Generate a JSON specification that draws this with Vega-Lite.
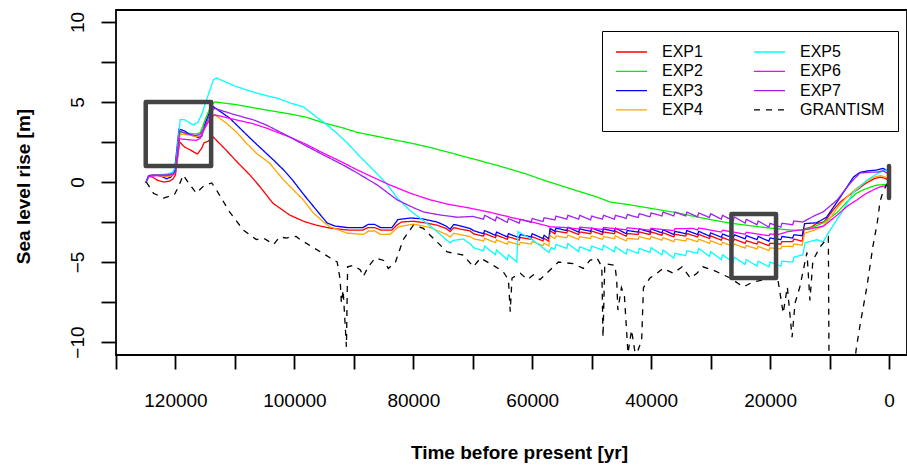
{
"$schema": "https://vega.github.io/schema/vega-lite/v6.json",
"width": 791, "height": 345,
"autosize": {"type": "none"},
"padding": {"left": 116, "top": 10, "right": 0, "bottom": 110},
"background": "white",
"config": {
  "font": "Liberation Sans",
  "view": {"stroke": "black", "strokeWidth": 1.8},
  "axis": {"grid": false, "domain": false, "tickColor": "black", "tickWidth": 1.8, "labelColor": "black", "labelFont": "Liberation Sans", "labelFontSize": 19, "titleFont": "Liberation Sans", "titleFontSize": 19, "titleFontWeight": "bold", "titleColor": "black", "labelOverlap": false, "labelFlush": false, "labelBound": false}
},
"layer": [
{
"data": {"values": [
{"s":"EXP1","t":125000,"v":-0.05},{"s":"EXP1","t":124500,"v":0.35},{"s":"EXP1","t":123800,"v":0.3},{"s":"EXP1","t":123000,"v":0.1},{"s":"EXP1","t":122000,"v":0.0},{"s":"EXP1","t":121000,"v":0.05},{"s":"EXP1","t":120400,"v":0.2},{"s":"EXP1","t":120000,"v":0.45},{"s":"EXP1","t":119300,"v":2.5},{"s":"EXP1","t":118500,"v":2.2},{"s":"EXP1","t":117500,"v":2.0},{"s":"EXP1","t":116300,"v":1.75},{"s":"EXP1","t":115600,"v":2.1},{"s":"EXP1","t":115200,"v":2.45},{"s":"EXP1","t":114500,"v":2.55},{"s":"EXP1","t":113700,"v":2.83},{"s":"EXP1","t":111500,"v":2.0},{"s":"EXP1","t":109500,"v":1.2},{"s":"EXP1","t":107500,"v":0.45},{"s":"EXP1","t":105800,"v":-0.29},{"s":"EXP1","t":103600,"v":-1.33},{"s":"EXP1","t":100800,"v":-2.06},{"s":"EXP1","t":98500,"v":-2.45},{"s":"EXP1","t":96300,"v":-2.7},{"s":"EXP1","t":94000,"v":-2.88},{"s":"EXP1","t":91000,"v":-3.0},{"s":"EXP1","t":88500,"v":-3.0},{"s":"EXP1","t":87600,"v":-2.85},{"s":"EXP1","t":86500,"v":-2.85},{"s":"EXP1","t":85500,"v":-3.0},{"s":"EXP1","t":83600,"v":-3.0},{"s":"EXP1","t":82800,"v":-2.7},{"s":"EXP1","t":82000,"v":-2.5},{"s":"EXP1","t":80000,"v":-2.45},{"s":"EXP1","t":78000,"v":-2.55},{"s":"EXP1","t":76000,"v":-2.7},{"s":"EXP1","t":74500,"v":-2.9},{"s":"EXP1","t":73800,"v":-3.1},{"s":"EXP1","t":73200,"v":-2.85},{"s":"EXP1","t":72000,"v":-2.95},{"s":"EXP1","t":70500,"v":-3.05},{"s":"EXP1","t":69800,"v":-3.25},
{"s":"EXP1","t":68200,"v":-3.38},{"s":"EXP1","t":68000,"v":-3.22},{"s":"EXP1","t":66200,"v":-3.48},{"s":"EXP1","t":66000,"v":-3.32},{"s":"EXP1","t":64200,"v":-3.58},{"s":"EXP1","t":64000,"v":-3.42},{"s":"EXP1","t":62200,"v":-3.63},{"s":"EXP1","t":62000,"v":-3.47},{"s":"EXP1","t":60200,"v":-3.58},{"s":"EXP1","t":60000,"v":-3.42},{"s":"EXP1","t":58200,"v":-3.68},{"s":"EXP1","t":58000,"v":-3.52},{"s":"EXP1","t":57200,"v":-3.7},{"s":"EXP1","t":57000,"v":-3.05},{"s":"EXP1","t":56200,"v":-3.23},{"s":"EXP1","t":56000,"v":-3.07},{"s":"EXP1","t":54200,"v":-3.18},{"s":"EXP1","t":54000,"v":-3.02},{"s":"EXP1","t":52200,"v":-3.28},{"s":"EXP1","t":52000,"v":-3.12},{"s":"EXP1","t":50200,"v":-3.23},{"s":"EXP1","t":50000,"v":-3.07},{"s":"EXP1","t":48200,"v":-3.28},{"s":"EXP1","t":48000,"v":-3.12},{"s":"EXP1","t":46200,"v":-3.23},{"s":"EXP1","t":46000,"v":-3.07},{"s":"EXP1","t":44200,"v":-3.38},{"s":"EXP1","t":44000,"v":-3.22},{"s":"EXP1","t":42200,"v":-3.28},{"s":"EXP1","t":42000,"v":-3.12},{"s":"EXP1","t":40200,"v":-3.28},{"s":"EXP1","t":40000,"v":-3.12},{"s":"EXP1","t":38200,"v":-3.33},{"s":"EXP1","t":38000,"v":-3.17},{"s":"EXP1","t":36200,"v":-3.43},{"s":"EXP1","t":36000,"v":-3.27},{"s":"EXP1","t":34200,"v":-3.38},{"s":"EXP1","t":34000,"v":-3.22},{"s":"EXP1","t":32200,"v":-3.43},{"s":"EXP1","t":32000,"v":-3.27},{"s":"EXP1","t":30200,"v":-3.53},{"s":"EXP1","t":30000,"v":-3.37},{"s":"EXP1","t":28200,"v":-3.63},{"s":"EXP1","t":28000,"v":-3.47},{"s":"EXP1","t":26200,"v":-3.73},{"s":"EXP1","t":26000,"v":-3.57},{"s":"EXP1","t":24200,"v":-3.83},{"s":"EXP1","t":24000,"v":-3.67},{"s":"EXP1","t":22200,"v":-3.88},{"s":"EXP1","t":22000,"v":-3.72},{"s":"EXP1","t":20200,"v":-3.98},{"s":"EXP1","t":20000,"v":-3.82},{"s":"EXP1","t":18200,"v":-3.88},{"s":"EXP1","t":18000,"v":-3.72},{"s":"EXP1","t":16200,"v":-3.73},{"s":"EXP1","t":16000,"v":-3.57},{"s":"EXP1","t":14600,"v":-3.7},{"s":"EXP1","t":14300,"v":-2.95},{"s":"EXP1","t":13000,"v":-2.8},{"s":"EXP1","t":12200,"v":-2.6},{"s":"EXP1","t":11000,"v":-2.5},{"s":"EXP1","t":10400,"v":-2.25},{"s":"EXP1","t":9500,"v":-1.8},{"s":"EXP1","t":8200,"v":-1.25},{"s":"EXP1","t":7000,"v":-0.9},{"s":"EXP1","t":5400,"v":-0.5},{"s":"EXP1","t":4000,"v":-0.1},{"s":"EXP1","t":2500,"v":0.2},{"s":"EXP1","t":1500,"v":0.3},{"s":"EXP1","t":800,"v":0.25},{"s":"EXP1","t":0,"v":0.1},

{"s":"EXP2","t":125000,"v":-0.05},{"s":"EXP2","t":124500,"v":0.35},{"s":"EXP2","t":123500,"v":0.45},{"s":"EXP2","t":122000,"v":0.45},{"s":"EXP2","t":121000,"v":0.5},{"s":"EXP2","t":120300,"v":0.6},{"s":"EXP2","t":119900,"v":0.9},{"s":"EXP2","t":119200,"v":3.1},{"s":"EXP2","t":118000,"v":3.05},{"s":"EXP2","t":116500,"v":3.0},{"s":"EXP2","t":115800,"v":3.1},{"s":"EXP2","t":115000,"v":3.9},{"s":"EXP2","t":114000,"v":4.8},{"s":"EXP2","t":113400,"v":5.0},{"s":"EXP2","t":110000,"v":4.85},{"s":"EXP2","t":107000,"v":4.65},{"s":"EXP2","t":104700,"v":4.5},{"s":"EXP2","t":100700,"v":4.25},{"s":"EXP2","t":98000,"v":4.05},{"s":"EXP2","t":95100,"v":3.7},{"s":"EXP2","t":92000,"v":3.4},{"s":"EXP2","t":89400,"v":3.1},{"s":"EXP2","t":86000,"v":2.85},{"s":"EXP2","t":82700,"v":2.6},{"s":"EXP2","t":80000,"v":2.4},{"s":"EXP2","t":77000,"v":2.15},{"s":"EXP2","t":75500,"v":2.0},{"s":"EXP2","t":72000,"v":1.65},{"s":"EXP2","t":69200,"v":1.37},{"s":"EXP2","t":66000,"v":1.05},{"s":"EXP2","t":63700,"v":0.8},{"s":"EXP2","t":61000,"v":0.5},{"s":"EXP2","t":58100,"v":0.12},{"s":"EXP2","t":55000,"v":-0.25},{"s":"EXP2","t":52000,"v":-0.6},{"s":"EXP2","t":49000,"v":-0.95},{"s":"EXP2","t":46900,"v":-1.25},{"s":"EXP2","t":44000,"v":-1.4},{"s":"EXP2","t":40000,"v":-1.65},{"s":"EXP2","t":36000,"v":-1.9},{"s":"EXP2","t":33400,"v":-2.1},{"s":"EXP2","t":30000,"v":-2.35},{"s":"EXP2","t":27000,"v":-2.55},{"s":"EXP2","t":24000,"v":-2.7},{"s":"EXP2","t":19500,"v":-2.9},{"s":"EXP2","t":16600,"v":-3.0},{"s":"EXP2","t":14500,"v":-3.0},{"s":"EXP2","t":13000,"v":-2.85},{"s":"EXP2","t":11100,"v":-2.56},{"s":"EXP2","t":8700,"v":-1.9},{"s":"EXP2","t":7100,"v":-1.25},{"s":"EXP2","t":5500,"v":-0.7},{"s":"EXP2","t":4400,"v":-0.5},{"s":"EXP2","t":3000,"v":-0.3},{"s":"EXP2","t":2000,"v":-0.19},{"s":"EXP2","t":0,"v":-0.15},

{"s":"EXP3","t":125000,"v":-0.05},{"s":"EXP3","t":124500,"v":0.4},{"s":"EXP3","t":123500,"v":0.45},{"s":"EXP3","t":122300,"v":0.35},{"s":"EXP3","t":121500,"v":0.2},{"s":"EXP3","t":120800,"v":0.3},{"s":"EXP3","t":120200,"v":0.55},{"s":"EXP3","t":119400,"v":3.3},{"s":"EXP3","t":118500,"v":3.2},{"s":"EXP3","t":117500,"v":2.95},{"s":"EXP3","t":116200,"v":2.8},{"s":"EXP3","t":115600,"v":2.85},{"s":"EXP3","t":115100,"v":3.56},{"s":"EXP3","t":114000,"v":4.6},{"s":"EXP3","t":113600,"v":4.7},{"s":"EXP3","t":110900,"v":4.0},{"s":"EXP3","t":107600,"v":2.8},{"s":"EXP3","t":105900,"v":2.2},{"s":"EXP3","t":103500,"v":1.37},{"s":"EXP3","t":101800,"v":0.75},{"s":"EXP3","t":100300,"v":0.12},{"s":"EXP3","t":98500,"v":-0.75},{"s":"EXP3","t":96300,"v":-1.75},{"s":"EXP3","t":94500,"v":-2.56},{"s":"EXP3","t":93200,"v":-2.75},{"s":"EXP3","t":91000,"v":-2.85},{"s":"EXP3","t":88500,"v":-2.85},{"s":"EXP3","t":87600,"v":-2.65},{"s":"EXP3","t":86500,"v":-2.65},{"s":"EXP3","t":85500,"v":-2.85},{"s":"EXP3","t":83600,"v":-2.85},{"s":"EXP3","t":82600,"v":-2.35},{"s":"EXP3","t":80500,"v":-2.25},{"s":"EXP3","t":78500,"v":-2.3},{"s":"EXP3","t":76000,"v":-2.5},{"s":"EXP3","t":74500,"v":-2.75},{"s":"EXP3","t":73800,"v":-2.95},{"s":"EXP3","t":73200,"v":-2.65},{"s":"EXP3","t":72000,"v":-2.75},{"s":"EXP3","t":70500,"v":-2.9},{"s":"EXP3","t":69800,"v":-3.05},
{"s":"EXP3","t":68200,"v":-3.23},{"s":"EXP3","t":68000,"v":-3.03},{"s":"EXP3","t":66200,"v":-3.33},{"s":"EXP3","t":66000,"v":-3.13},{"s":"EXP3","t":64200,"v":-3.43},{"s":"EXP3","t":64000,"v":-3.23},{"s":"EXP3","t":62200,"v":-3.48},{"s":"EXP3","t":62000,"v":-3.28},{"s":"EXP3","t":60200,"v":-3.43},{"s":"EXP3","t":60000,"v":-3.23},{"s":"EXP3","t":58200,"v":-3.53},{"s":"EXP3","t":58000,"v":-3.33},{"s":"EXP3","t":57200,"v":-3.55},{"s":"EXP3","t":57000,"v":-2.9},{"s":"EXP3","t":56200,"v":-3.08},{"s":"EXP3","t":56000,"v":-2.88},{"s":"EXP3","t":54200,"v":-3.03},{"s":"EXP3","t":54000,"v":-2.83},{"s":"EXP3","t":52200,"v":-3.13},{"s":"EXP3","t":52000,"v":-2.93},{"s":"EXP3","t":50200,"v":-3.08},{"s":"EXP3","t":50000,"v":-2.88},{"s":"EXP3","t":48200,"v":-3.13},{"s":"EXP3","t":48000,"v":-2.93},{"s":"EXP3","t":46200,"v":-3.08},{"s":"EXP3","t":46000,"v":-2.88},{"s":"EXP3","t":44200,"v":-3.23},{"s":"EXP3","t":44000,"v":-3.03},{"s":"EXP3","t":42200,"v":-3.13},{"s":"EXP3","t":42000,"v":-2.93},{"s":"EXP3","t":40200,"v":-3.13},{"s":"EXP3","t":40000,"v":-2.93},{"s":"EXP3","t":38200,"v":-3.18},{"s":"EXP3","t":38000,"v":-2.98},{"s":"EXP3","t":36200,"v":-3.28},{"s":"EXP3","t":36000,"v":-3.08},{"s":"EXP3","t":34200,"v":-3.23},{"s":"EXP3","t":34000,"v":-3.03},{"s":"EXP3","t":32200,"v":-3.28},{"s":"EXP3","t":32000,"v":-3.08},{"s":"EXP3","t":30200,"v":-3.38},{"s":"EXP3","t":30000,"v":-3.18},{"s":"EXP3","t":28200,"v":-3.45},{"s":"EXP3","t":28000,"v":-3.25},{"s":"EXP3","t":26200,"v":-3.5},{"s":"EXP3","t":26000,"v":-3.3},{"s":"EXP3","t":24200,"v":-3.55},{"s":"EXP3","t":24000,"v":-3.35},{"s":"EXP3","t":22200,"v":-3.6},{"s":"EXP3","t":22000,"v":-3.4},{"s":"EXP3","t":20200,"v":-3.7},{"s":"EXP3","t":20000,"v":-3.5},{"s":"EXP3","t":18200,"v":-3.6},{"s":"EXP3","t":18000,"v":-3.4},{"s":"EXP3","t":16200,"v":-3.5},{"s":"EXP3","t":16000,"v":-3.3},{"s":"EXP3","t":14600,"v":-3.35},{"s":"EXP3","t":14200,"v":-2.6},{"s":"EXP3","t":12200,"v":-2.55},{"s":"EXP3","t":10500,"v":-2.2},{"s":"EXP3","t":8200,"v":-0.95},{"s":"EXP3","t":6000,"v":0.3},{"s":"EXP3","t":4900,"v":0.6},{"s":"EXP3","t":3500,"v":0.7},{"s":"EXP3","t":2000,"v":0.75},{"s":"EXP3","t":1000,"v":0.85},{"s":"EXP3","t":0,"v":0.65},

{"s":"EXP4","t":125000,"v":-0.05},{"s":"EXP4","t":124500,"v":0.4},{"s":"EXP4","t":123500,"v":0.45},{"s":"EXP4","t":122000,"v":0.35},{"s":"EXP4","t":121000,"v":0.35},{"s":"EXP4","t":120300,"v":0.45},{"s":"EXP4","t":119900,"v":0.7},{"s":"EXP4","t":119300,"v":3.0},{"s":"EXP4","t":118000,"v":2.95},{"s":"EXP4","t":116500,"v":2.85},{"s":"EXP4","t":115800,"v":2.9},{"s":"EXP4","t":115000,"v":3.5},{"s":"EXP4","t":114000,"v":4.1},{"s":"EXP4","t":113400,"v":4.2},{"s":"EXP4","t":111500,"v":3.7},{"s":"EXP4","t":109700,"v":3.1},{"s":"EXP4","t":108000,"v":2.4},{"s":"EXP4","t":106400,"v":1.8},{"s":"EXP4","t":104200,"v":1.19},{"s":"EXP4","t":101800,"v":0.12},{"s":"EXP4","t":98500,"v":-1.12},{"s":"EXP4","t":96800,"v":-1.94},{"s":"EXP4","t":95100,"v":-2.5},{"s":"EXP4","t":94000,"v":-2.8},{"s":"EXP4","t":91100,"v":-3.2},{"s":"EXP4","t":88400,"v":-3.27},{"s":"EXP4","t":87500,"v":-3.06},{"s":"EXP4","t":86500,"v":-3.06},{"s":"EXP4","t":85500,"v":-3.27},{"s":"EXP4","t":83900,"v":-3.27},{"s":"EXP4","t":82500,"v":-2.8},{"s":"EXP4","t":80000,"v":-2.63},{"s":"EXP4","t":77100,"v":-2.85},{"s":"EXP4","t":74300,"v":-3.3},{"s":"EXP4","t":73800,"v":-3.44},{"s":"EXP4","t":73200,"v":-3.2},{"s":"EXP4","t":72000,"v":-3.3},{"s":"EXP4","t":70500,"v":-3.4},{"s":"EXP4","t":69800,"v":-3.55},
{"s":"EXP4","t":68200,"v":-3.68},{"s":"EXP4","t":68000,"v":-3.52},{"s":"EXP4","t":66200,"v":-3.78},{"s":"EXP4","t":66000,"v":-3.62},{"s":"EXP4","t":64200,"v":-3.88},{"s":"EXP4","t":64000,"v":-3.72},{"s":"EXP4","t":62200,"v":-3.93},{"s":"EXP4","t":62000,"v":-3.77},{"s":"EXP4","t":60200,"v":-3.88},{"s":"EXP4","t":60000,"v":-3.72},{"s":"EXP4","t":58200,"v":-3.98},{"s":"EXP4","t":58000,"v":-3.82},{"s":"EXP4","t":57200,"v":-4.0},{"s":"EXP4","t":57000,"v":-3.35},{"s":"EXP4","t":56200,"v":-3.53},{"s":"EXP4","t":56000,"v":-3.37},{"s":"EXP4","t":54200,"v":-3.48},{"s":"EXP4","t":54000,"v":-3.32},{"s":"EXP4","t":52200,"v":-3.58},{"s":"EXP4","t":52000,"v":-3.42},{"s":"EXP4","t":50200,"v":-3.53},{"s":"EXP4","t":50000,"v":-3.37},{"s":"EXP4","t":48200,"v":-3.58},{"s":"EXP4","t":48000,"v":-3.42},{"s":"EXP4","t":46200,"v":-3.53},{"s":"EXP4","t":46000,"v":-3.37},{"s":"EXP4","t":44200,"v":-3.68},{"s":"EXP4","t":44000,"v":-3.52},{"s":"EXP4","t":42200,"v":-3.58},{"s":"EXP4","t":42000,"v":-3.42},{"s":"EXP4","t":40200,"v":-3.58},{"s":"EXP4","t":40000,"v":-3.42},{"s":"EXP4","t":38200,"v":-3.63},{"s":"EXP4","t":38000,"v":-3.47},{"s":"EXP4","t":36200,"v":-3.73},{"s":"EXP4","t":36000,"v":-3.57},{"s":"EXP4","t":34200,"v":-3.68},{"s":"EXP4","t":34000,"v":-3.52},{"s":"EXP4","t":32200,"v":-3.73},{"s":"EXP4","t":32000,"v":-3.57},{"s":"EXP4","t":30200,"v":-3.83},{"s":"EXP4","t":30000,"v":-3.67},{"s":"EXP4","t":28200,"v":-3.93},{"s":"EXP4","t":28000,"v":-3.77},{"s":"EXP4","t":26200,"v":-4.03},{"s":"EXP4","t":26000,"v":-3.87},{"s":"EXP4","t":24200,"v":-4.13},{"s":"EXP4","t":24000,"v":-3.97},{"s":"EXP4","t":22200,"v":-4.18},{"s":"EXP4","t":22000,"v":-4.02},{"s":"EXP4","t":20200,"v":-4.28},{"s":"EXP4","t":20000,"v":-4.12},{"s":"EXP4","t":18200,"v":-4.18},{"s":"EXP4","t":18000,"v":-4.02},{"s":"EXP4","t":16200,"v":-4.03},{"s":"EXP4","t":16000,"v":-3.87},{"s":"EXP4","t":14600,"v":-3.95},{"s":"EXP4","t":14200,"v":-3.2},{"s":"EXP4","t":12500,"v":-3.0},{"s":"EXP4","t":11100,"v":-2.75},{"s":"EXP4","t":10000,"v":-2.3},{"s":"EXP4","t":8500,"v":-1.5},{"s":"EXP4","t":7000,"v":-0.9},{"s":"EXP4","t":5500,"v":-0.4},{"s":"EXP4","t":4000,"v":0.0},{"s":"EXP4","t":2500,"v":0.3},{"s":"EXP4","t":1500,"v":0.4},{"s":"EXP4","t":0,"v":0.25},

{"s":"EXP5","t":125000,"v":-0.05},{"s":"EXP5","t":124500,"v":0.35},{"s":"EXP5","t":123000,"v":0.45},{"s":"EXP5","t":121500,"v":0.5},{"s":"EXP5","t":120500,"v":0.6},{"s":"EXP5","t":120000,"v":0.9},{"s":"EXP5","t":119200,"v":3.9},{"s":"EXP5","t":118500,"v":3.9},{"s":"EXP5","t":117000,"v":3.56},{"s":"EXP5","t":116200,"v":3.75},{"s":"EXP5","t":115500,"v":4.3},{"s":"EXP5","t":115000,"v":4.9},{"s":"EXP5","t":113600,"v":6.4},{"s":"EXP5","t":113100,"v":6.5},{"s":"EXP5","t":110000,"v":6.0},{"s":"EXP5","t":108000,"v":5.75},{"s":"EXP5","t":106400,"v":5.56},{"s":"EXP5","t":105200,"v":5.44},{"s":"EXP5","t":103000,"v":5.25},{"s":"EXP5","t":101800,"v":5.1},{"s":"EXP5","t":100700,"v":4.94},{"s":"EXP5","t":98500,"v":4.7},{"s":"EXP5","t":96300,"v":4.06},{"s":"EXP5","t":95100,"v":3.75},{"s":"EXP5","t":93000,"v":3.1},{"s":"EXP5","t":91100,"v":2.44},{"s":"EXP5","t":89000,"v":1.6},{"s":"EXP5","t":86700,"v":0.75},{"s":"EXP5","t":84500,"v":-0.1},{"s":"EXP5","t":82700,"v":-1.0},{"s":"EXP5","t":80500,"v":-1.8},{"s":"EXP5","t":78000,"v":-2.5},{"s":"EXP5","t":76000,"v":-3.1},{"s":"EXP5","t":74500,"v":-3.6},{"s":"EXP5","t":73800,"v":-3.8},{"s":"EXP5","t":73300,"v":-3.65},{"s":"EXP5","t":71600,"v":-3.56},{"s":"EXP5","t":70300,"v":-3.9},{"s":"EXP5","t":69900,"v":-4.1},
{"s":"EXP5","t":68200,"v":-4.3},{"s":"EXP5","t":68000,"v":-4.0},{"s":"EXP5","t":66200,"v":-4.55},{"s":"EXP5","t":66000,"v":-4.25},{"s":"EXP5","t":64200,"v":-4.85},{"s":"EXP5","t":64000,"v":-4.55},{"s":"EXP5","t":62600,"v":-5.0},{"s":"EXP5","t":62400,"v":-3.1},{"s":"EXP5","t":60000,"v":-3.6},{"s":"EXP5","t":57200,"v":-4.4},{"s":"EXP5","t":56800,"v":-4.1},{"s":"EXP5","t":56200,"v":-4.2},{"s":"EXP5","t":56000,"v":-3.9},{"s":"EXP5","t":54200,"v":-4.15},{"s":"EXP5","t":54000,"v":-3.85},{"s":"EXP5","t":52200,"v":-4.35},{"s":"EXP5","t":52000,"v":-4.05},{"s":"EXP5","t":50200,"v":-4.3},{"s":"EXP5","t":50000,"v":-4.0},{"s":"EXP5","t":48200,"v":-4.25},{"s":"EXP5","t":48000,"v":-3.95},{"s":"EXP5","t":46200,"v":-4.35},{"s":"EXP5","t":46000,"v":-4.05},{"s":"EXP5","t":44200,"v":-4.5},{"s":"EXP5","t":44000,"v":-4.2},{"s":"EXP5","t":42200,"v":-4.45},{"s":"EXP5","t":42000,"v":-4.15},{"s":"EXP5","t":40200,"v":-4.4},{"s":"EXP5","t":40000,"v":-4.1},{"s":"EXP5","t":38200,"v":-4.55},{"s":"EXP5","t":38000,"v":-4.25},{"s":"EXP5","t":36200,"v":-4.75},{"s":"EXP5","t":36000,"v":-4.45},{"s":"EXP5","t":34200,"v":-4.6},{"s":"EXP5","t":34000,"v":-4.3},{"s":"EXP5","t":32200,"v":-4.45},{"s":"EXP5","t":32000,"v":-4.15},{"s":"EXP5","t":30200,"v":-4.65},{"s":"EXP5","t":30000,"v":-4.35},{"s":"EXP5","t":28200,"v":-4.85},{"s":"EXP5","t":28000,"v":-4.55},{"s":"EXP5","t":26200,"v":-5.0},{"s":"EXP5","t":26000,"v":-4.7},{"s":"EXP5","t":24200,"v":-5.15},{"s":"EXP5","t":24000,"v":-4.85},{"s":"EXP5","t":22200,"v":-5.25},{"s":"EXP5","t":22000,"v":-4.95},{"s":"EXP5","t":20200,"v":-5.3},{"s":"EXP5","t":20000,"v":-5.0},{"s":"EXP5","t":18200,"v":-5.25},{"s":"EXP5","t":18000,"v":-4.95},{"s":"EXP5","t":16200,"v":-5.0},{"s":"EXP5","t":16000,"v":-4.7},{"s":"EXP5","t":14500,"v":-4.56},{"s":"EXP5","t":14100,"v":-3.8},{"s":"EXP5","t":12100,"v":-3.6},{"s":"EXP5","t":11100,"v":-3.75},{"s":"EXP5","t":9900,"v":-3.0},{"s":"EXP5","t":7700,"v":-1.75},{"s":"EXP5","t":6100,"v":-0.7},{"s":"EXP5","t":3700,"v":0.12},{"s":"EXP5","t":1500,"v":0.62},{"s":"EXP5","t":500,"v":0.75},{"s":"EXP5","t":0,"v":0.7},

{"s":"EXP6","t":125000,"v":-0.05},{"s":"EXP6","t":124500,"v":0.35},{"s":"EXP6","t":123000,"v":0.4},{"s":"EXP6","t":121500,"v":0.4},{"s":"EXP6","t":120500,"v":0.45},{"s":"EXP6","t":120000,"v":0.6},{"s":"EXP6","t":119300,"v":2.7},{"s":"EXP6","t":118000,"v":2.65},{"s":"EXP6","t":116500,"v":2.6},{"s":"EXP6","t":115800,"v":2.75},{"s":"EXP6","t":115000,"v":3.4},{"s":"EXP6","t":114000,"v":4.05},{"s":"EXP6","t":113400,"v":4.2},{"s":"EXP6","t":110000,"v":3.9},{"s":"EXP6","t":107000,"v":3.65},{"s":"EXP6","t":104700,"v":3.37},{"s":"EXP6","t":100700,"v":2.8},{"s":"EXP6","t":98000,"v":2.35},{"s":"EXP6","t":95100,"v":1.8},{"s":"EXP6","t":92000,"v":1.25},{"s":"EXP6","t":89400,"v":0.75},{"s":"EXP6","t":86500,"v":0.25},{"s":"EXP6","t":83900,"v":-0.19},{"s":"EXP6","t":80500,"v":-0.7},{"s":"EXP6","t":77100,"v":-1.12},{"s":"EXP6","t":74000,"v":-1.4},{"s":"EXP6","t":70900,"v":-1.6},{"s":"EXP6","t":67000,"v":-1.9},{"s":"EXP6","t":63700,"v":-2.2},{"s":"EXP6","t":60000,"v":-2.5},{"s":"EXP6","t":57000,"v":-2.8},{"s":"EXP6","t":54000,"v":-2.85},{"s":"EXP6","t":52200,"v":-2.94},{"s":"EXP6","t":52000,"v":-2.82},{"s":"EXP6","t":48200,"v":-2.96},{"s":"EXP6","t":48000,"v":-2.84},{"s":"EXP6","t":44200,"v":-2.98},{"s":"EXP6","t":44000,"v":-2.86},{"s":"EXP6","t":40200,"v":-3.01},{"s":"EXP6","t":40000,"v":-2.89},{"s":"EXP6","t":36200,"v":-3.04},{"s":"EXP6","t":36000,"v":-2.92},{"s":"EXP6","t":33000,"v":-2.9},{"s":"EXP6","t":32200,"v":-2.99},{"s":"EXP6","t":32000,"v":-2.87},{"s":"EXP6","t":28200,"v":-3.13},{"s":"EXP6","t":28000,"v":-3.01},{"s":"EXP6","t":24200,"v":-3.26},{"s":"EXP6","t":24000,"v":-3.14},{"s":"EXP6","t":20200,"v":-3.36},{"s":"EXP6","t":20000,"v":-3.24},{"s":"EXP6","t":18800,"v":-3.3},{"s":"EXP6","t":17000,"v":-3.1},{"s":"EXP6","t":15000,"v":-3.0},{"s":"EXP6","t":13500,"v":-2.95},{"s":"EXP6","t":11000,"v":-2.75},{"s":"EXP6","t":8700,"v":-2.06},{"s":"EXP6","t":7000,"v":-1.5},{"s":"EXP6","t":5400,"v":-1.12},{"s":"EXP6","t":4000,"v":-0.75},{"s":"EXP6","t":2700,"v":-0.5},{"s":"EXP6","t":1500,"v":-0.3},{"s":"EXP6","t":0,"v":-0.2},

{"s":"EXP7","t":125000,"v":-0.05},{"s":"EXP7","t":124500,"v":0.4},{"s":"EXP7","t":123000,"v":0.45},{"s":"EXP7","t":121500,"v":0.45},{"s":"EXP7","t":120500,"v":0.5},{"s":"EXP7","t":120000,"v":0.65},{"s":"EXP7","t":119300,"v":3.2},{"s":"EXP7","t":118000,"v":3.0},{"s":"EXP7","t":116500,"v":2.9},{"s":"EXP7","t":115800,"v":3.0},{"s":"EXP7","t":115000,"v":3.5},{"s":"EXP7","t":114000,"v":4.45},{"s":"EXP7","t":113400,"v":4.6},{"s":"EXP7","t":110000,"v":4.2},{"s":"EXP7","t":107000,"v":3.9},{"s":"EXP7","t":104700,"v":3.56},{"s":"EXP7","t":100700,"v":2.8},{"s":"EXP7","t":98000,"v":2.25},{"s":"EXP7","t":95100,"v":1.69},{"s":"EXP7","t":92000,"v":1.1},{"s":"EXP7","t":89400,"v":0.56},{"s":"EXP7","t":86000,"v":-0.2},{"s":"EXP7","t":82700,"v":-1.12},{"s":"EXP7","t":80000,"v":-1.6},{"s":"EXP7","t":78300,"v":-1.87},{"s":"EXP7","t":75500,"v":-2.06},{"s":"EXP7","t":72600,"v":-2.2},{"s":"EXP7","t":70000,"v":-2.15},
{"s":"EXP7","t":68200,"v":-2.32},{"s":"EXP7","t":68000,"v":-2.08},{"s":"EXP7","t":66200,"v":-2.42},{"s":"EXP7","t":66000,"v":-2.18},{"s":"EXP7","t":64200,"v":-2.52},{"s":"EXP7","t":64000,"v":-2.28},{"s":"EXP7","t":62200,"v":-2.57},{"s":"EXP7","t":62000,"v":-2.33},{"s":"EXP7","t":60200,"v":-2.52},{"s":"EXP7","t":60000,"v":-2.28},{"s":"EXP7","t":58200,"v":-2.47},{"s":"EXP7","t":58000,"v":-2.23},{"s":"EXP7","t":56200,"v":-2.37},{"s":"EXP7","t":56000,"v":-2.13},{"s":"EXP7","t":54200,"v":-2.32},{"s":"EXP7","t":54000,"v":-2.08},{"s":"EXP7","t":52200,"v":-2.32},{"s":"EXP7","t":52000,"v":-2.08},{"s":"EXP7","t":50200,"v":-2.37},{"s":"EXP7","t":50000,"v":-2.13},{"s":"EXP7","t":48200,"v":-2.32},{"s":"EXP7","t":48000,"v":-2.08},{"s":"EXP7","t":46200,"v":-2.32},{"s":"EXP7","t":46000,"v":-2.08},{"s":"EXP7","t":44200,"v":-2.27},{"s":"EXP7","t":44000,"v":-2.03},{"s":"EXP7","t":42200,"v":-2.22},{"s":"EXP7","t":42000,"v":-1.98},{"s":"EXP7","t":40200,"v":-2.17},{"s":"EXP7","t":40000,"v":-1.93},{"s":"EXP7","t":38200,"v":-2.12},{"s":"EXP7","t":38000,"v":-1.88},{"s":"EXP7","t":36200,"v":-2.12},{"s":"EXP7","t":36000,"v":-1.88},{"s":"EXP7","t":34200,"v":-2.12},{"s":"EXP7","t":34000,"v":-1.88},{"s":"EXP7","t":32200,"v":-2.17},{"s":"EXP7","t":32000,"v":-1.93},{"s":"EXP7","t":30200,"v":-2.22},{"s":"EXP7","t":30000,"v":-1.98},{"s":"EXP7","t":28200,"v":-2.32},{"s":"EXP7","t":28000,"v":-2.08},{"s":"EXP7","t":26200,"v":-2.42},{"s":"EXP7","t":26000,"v":-2.18},{"s":"EXP7","t":24200,"v":-2.57},{"s":"EXP7","t":24000,"v":-2.33},{"s":"EXP7","t":22200,"v":-2.67},{"s":"EXP7","t":22000,"v":-2.43},{"s":"EXP7","t":20200,"v":-2.82},{"s":"EXP7","t":20000,"v":-2.58},{"s":"EXP7","t":18200,"v":-2.82},{"s":"EXP7","t":18000,"v":-2.58},{"s":"EXP7","t":16200,"v":-2.67},{"s":"EXP7","t":16000,"v":-2.43},{"s":"EXP7","t":14500,"v":-2.5},{"s":"EXP7","t":12500,"v":-2.1},{"s":"EXP7","t":11100,"v":-1.87},{"s":"EXP7","t":8700,"v":-1.12},{"s":"EXP7","t":6500,"v":-0.06},{"s":"EXP7","t":4900,"v":0.56},{"s":"EXP7","t":3000,"v":0.62},{"s":"EXP7","t":2000,"v":0.62},{"s":"EXP7","t":1000,"v":0.7},{"s":"EXP7","t":0,"v":0.5},

{"s":"GRANTISM","t":124900,"v":0.0},{"s":"GRANTISM","t":123700,"v":-0.7},{"s":"GRANTISM","t":122000,"v":-1.0},{"s":"GRANTISM","t":120200,"v":-0.8},{"s":"GRANTISM","t":119500,"v":-0.3},{"s":"GRANTISM","t":118700,"v":0.44},{"s":"GRANTISM","t":117800,"v":-0.06},{"s":"GRANTISM","t":116500,"v":-0.7},{"s":"GRANTISM","t":115100,"v":-0.19},{"s":"GRANTISM","t":113900,"v":-0.06},{"s":"GRANTISM","t":113100,"v":-0.5},{"s":"GRANTISM","t":110900,"v":-1.87},{"s":"GRANTISM","t":108600,"v":-3.0},{"s":"GRANTISM","t":106400,"v":-3.6},{"s":"GRANTISM","t":105200,"v":-3.5},{"s":"GRANTISM","t":103500,"v":-3.9},{"s":"GRANTISM","t":102500,"v":-3.44},{"s":"GRANTISM","t":101300,"v":-3.5},{"s":"GRANTISM","t":100700,"v":-3.44},{"s":"GRANTISM","t":99700,"v":-3.4},{"s":"GRANTISM","t":99000,"v":-3.6},{"s":"GRANTISM","t":95600,"v":-4.37},{"s":"GRANTISM","t":92800,"v":-5.0},{"s":"GRANTISM","t":92300,"v":-6.1},{"s":"GRANTISM","t":92100,"v":-7.56},{"s":"GRANTISM","t":91800,"v":-6.75},{"s":"GRANTISM","t":91250,"v":-10.3},{"s":"GRANTISM","t":91050,"v":-5.3},{"s":"GRANTISM","t":90100,"v":-5.2},{"s":"GRANTISM","t":88900,"v":-5.5},{"s":"GRANTISM","t":88400,"v":-5.9},{"s":"GRANTISM","t":87600,"v":-5.3},{"s":"GRANTISM","t":86400,"v":-4.75},{"s":"GRANTISM","t":85000,"v":-4.9},{"s":"GRANTISM","t":84200,"v":-5.4},{"s":"GRANTISM","t":83000,"v":-5.0},{"s":"GRANTISM","t":81700,"v":-3.6},{"s":"GRANTISM","t":80000,"v":-2.7},{"s":"GRANTISM","t":78300,"v":-2.9},{"s":"GRANTISM","t":76000,"v":-3.75},{"s":"GRANTISM","t":74300,"v":-4.37},{"s":"GRANTISM","t":71600,"v":-4.56},{"s":"GRANTISM","t":69900,"v":-5.3},{"s":"GRANTISM","t":68700,"v":-4.75},{"s":"GRANTISM","t":66600,"v":-5.2},{"s":"GRANTISM","t":64900,"v":-5.6},{"s":"GRANTISM","t":64000,"v":-6.1},{"s":"GRANTISM","t":63700,"v":-8.1},{"s":"GRANTISM","t":63400,"v":-6.0},{"s":"GRANTISM","t":62000,"v":-5.7},{"s":"GRANTISM","t":60800,"v":-6.1},{"s":"GRANTISM","t":59800,"v":-5.8},{"s":"GRANTISM","t":58700,"v":-6.1},{"s":"GRANTISM","t":57000,"v":-5.5},{"s":"GRANTISM","t":55600,"v":-5.0},{"s":"GRANTISM","t":53100,"v":-5.1},{"s":"GRANTISM","t":51400,"v":-5.4},{"s":"GRANTISM","t":50300,"v":-4.9},{"s":"GRANTISM","t":49100,"v":-4.75},{"s":"GRANTISM","t":48300,"v":-5.3},{"s":"GRANTISM","t":48100,"v":-9.7},{"s":"GRANTISM","t":47800,"v":-5.1},{"s":"GRANTISM","t":46100,"v":-5.2},{"s":"GRANTISM","t":45800,"v":-6.1},{"s":"GRANTISM","t":45600,"v":-8.0},{"s":"GRANTISM","t":45000,"v":-6.6},{"s":"GRANTISM","t":44500,"v":-7.1},{"s":"GRANTISM","t":43900,"v":-10.7},{"s":"GRANTISM","t":43300,"v":-9.25},{"s":"GRANTISM","t":42700,"v":-10.7},{"s":"GRANTISM","t":42200,"v":-10.5},{"s":"GRANTISM","t":41600,"v":-9.9},{"s":"GRANTISM","t":41300,"v":-6.6},{"s":"GRANTISM","t":40200,"v":-6.0},{"s":"GRANTISM","t":39000,"v":-5.7},{"s":"GRANTISM","t":38000,"v":-5.4},{"s":"GRANTISM","t":36300,"v":-5.7},{"s":"GRANTISM","t":34800,"v":-5.3},{"s":"GRANTISM","t":33400,"v":-6.0},{"s":"GRANTISM","t":32300,"v":-5.7},{"s":"GRANTISM","t":31300,"v":-5.3},{"s":"GRANTISM","t":29600,"v":-5.5},{"s":"GRANTISM","t":26700,"v":-6.0},{"s":"GRANTISM","t":24500,"v":-6.56},{"s":"GRANTISM","t":22900,"v":-6.25},{"s":"GRANTISM","t":20500,"v":-6.06},{"s":"GRANTISM","t":18700,"v":-6.06},{"s":"GRANTISM","t":17800,"v":-8.2},{"s":"GRANTISM","t":17100,"v":-6.56},{"s":"GRANTISM","t":16300,"v":-9.7},{"s":"GRANTISM","t":15800,"v":-7.56},{"s":"GRANTISM","t":15000,"v":-6.56},{"s":"GRANTISM","t":13800,"v":-4.4},{"s":"GRANTISM","t":13300,"v":-7.4},{"s":"GRANTISM","t":12800,"v":-4.9},{"s":"GRANTISM","t":11600,"v":-4.06},{"s":"GRANTISM","t":10200,"v":-3.44},{"s":"GRANTISM","t":10100,"v":-10.6},{"s":"GRANTISM","t":9900,"v":-12.0},{"s":"GRANTISM","t":8000,"v":-16.0},{"s":"GRANTISM","t":6000,"v":-12.0},{"s":"GRANTISM","t":5500,"v":-10.4},{"s":"GRANTISM","t":4900,"v":-9.0},{"s":"GRANTISM","t":3700,"v":-6.5},{"s":"GRANTISM","t":2700,"v":-4.0},{"s":"GRANTISM","t":2000,"v":-2.6},{"s":"GRANTISM","t":1500,"v":-1.2},{"s":"GRANTISM","t":1000,"v":-0.6},{"s":"GRANTISM","t":300,"v":-0.1}
]},
"mark": {"type": "line", "strokeWidth": 1.3, "clip": true},
"encoding": {
  "x": {"field": "t", "type": "quantitative", "scale": {"domain": [-3025, 130000], "reverse": true, "nice": false, "zero": false},
        "axis": {"values": [130000,120000,110000,100000,90000,80000,70000,60000,50000,40000,30000,20000,10000,0], "labelExpr": "datum.value % 20000 === 0 ? format(datum.value, 'd') : ''", "tickSize": 14, "labelPadding": 37.5, "labelBaseline": "alphabetic", "title": "Time before present [yr]", "titleX": 403, "titleY": 103, "titleBaseline": "alphabetic", "titleAlign": "center"}},
  "y": {"field": "v", "type": "quantitative", "scale": {"domain": [-10.81, 10.75], "nice": false, "zero": false},
        "axis": {"values": [-10,-7.5,-5,-2.5,0,2.5,5,7.5,10], "labelExpr": "datum.value % 5 === 0 ? format(datum.value, 'd') : ''", "tickSize": 15, "labelPadding": 18, "labelAngle": 270, "labelAlign": "center", "labelBaseline": "alphabetic", "title": "Sea level rise [m]", "titleX": -87, "titleY": 176, "titleAngle": 270, "titleAlign": "center", "titleBaseline": "alphabetic"}},
  "color": {"field": "s", "type": "nominal",
    "scale": {"domain": ["EXP1","EXP2","EXP3","EXP4","EXP5","EXP6","EXP7","GRANTISM"], "range": ["#FF0000","#00EE00","#0000FF","#FFA500","#00FFFF","#FF00FF","#A020F0","#000000"]},
    "legend": {"title": null, "orient": "none", "legendX": 486, "legendY": 21, "columns": 2, "symbolType": "stroke", "symbolSize": 961, "symbolStrokeWidth": 1.3, "clipHeight": 16, "labelFontSize": 16, "labelFont": "Liberation Sans", "labelColor": "black", "labelOffset": 14, "columnPadding": 50, "rowPadding": 3.3, "padding": 13, "strokeColor": "black", "fillColor": "white"}},
  "strokeDash": {"field": "s", "type": "nominal",
    "scale": {"domain": ["EXP1","EXP2","EXP3","EXP4","EXP5","EXP6","EXP7","GRANTISM"], "range": [[1,0],[1,0],[1,0],[1,0],[1,0],[1,0],[1,0],[6,6]]}}
}
},
{
"data": {"values": [
  {"x": 125000, "x2": 114000, "y": 1, "y2": 5},
  {"x": 26500, "x2": 19000, "y": -2, "y2": -6},
  {"x": 0, "x2": 0, "y": -1, "y2": 1}
]},
"mark": {"type": "rect", "filled": false, "stroke": "#444444", "strokeWidth": 4.5, "strokeJoin": "round"},
"encoding": {
  "x": {"field": "x", "type": "quantitative"},
  "x2": {"field": "x2"},
  "y": {"field": "y", "type": "quantitative"},
  "y2": {"field": "y2"}
}
}
]
}
